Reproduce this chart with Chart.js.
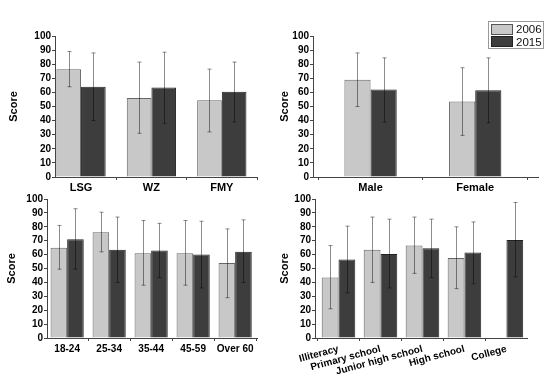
<!DOCTYPE html>
<html>
<head>
<meta charset="utf-8">
<script src="https://cdn.jsdelivr.net/npm/chart.js@4"></script>
<style>
  body { margin: 0; background: #fff; width: 550px; height: 384px; position: relative; overflow: hidden;
         font-family: "Liberation Sans", Arial, sans-serif; }
  canvas { position: absolute; }
  #legend { position: absolute; left: 488px; top: 21px; width: 54px; height: 26px; border: 1px solid #999;
            font-size: 11.5px; color: #111; }
  .row { display: flex; align-items: center; height: 11px; margin-top: 1.5px; }
  .sw { width: 20px; height: 9px; border: 1px solid #555; margin: 0 3px 0 2px; }
</style>
</head>
<body>
<canvas id="c1" width="275" height="192" style="left:0;top:0"></canvas>
<canvas id="c2" width="275" height="192" style="left:275px;top:0"></canvas>
<canvas id="c3" width="275" height="192" style="left:0;top:192px"></canvas>
<canvas id="c4" width="275" height="192" style="left:275px;top:192px"></canvas>
<div id="legend">
  <div class="row"><span class="sw" style="background:#c8c8c8"></span>2006</div>
  <div class="row"><span class="sw" style="background:#3d3d3d;border-color:#222"></span>2015</div>
</div>
<script>
// region panel
const regions = ['LSG', 'WZ', 'FMY'];
const region2006 = [76.5, 56, 54.5];
const region2006Low = [64, 31, 32];
const region2006High = [89, 81.5, 76.5];
const region2015 = [64, 63.5, 60.5];
const region2015Low = [40, 38, 39];
const region2015High = [88, 88.5, 81.5];

// gender panel
const genders = ['Male', 'Female'];
const gender2006 = [69, 53.5];
const gender2006Low = [50, 29.5];
const gender2006High = [88, 77.5];
const gender2015 = [62, 61.5];
const gender2015Low = [39, 38.5];
const gender2015High = [84.5, 84.5];

// age panel
const ages = ['18-24', '25-34', '35-44', '45-59', 'Over 60'];
const age2006 = [65, 76, 61, 61, 54];
const age2006Low = [49.5, 62, 38, 38, 29];
const age2006High = [81, 90.5, 84.5, 84.5, 78.5];
const age2015 = [71, 63.5, 63, 60, 62];
const age2015Low = [49.5, 40, 43.5, 36, 40];
const age2015High = [93, 87, 82.5, 84, 85];

// education panel (no 2006 value for College)
const education = ['Illiteracy', 'Primary school', 'Junior high school', 'High school', 'College'];
const edu2006 = [43.5, 63.5, 66.5, 57.5, null];
const edu2006Low = [21, 40, 46.5, 35.5, null];
const edu2006High = [66.5, 87, 87, 80, null];
const edu2015 = [56.5, 60.5, 64.5, 61.5, 70.5];
const edu2015Low = [32.5, 36, 43.5, 39, 44];
const edu2015High = [80.5, 85.5, 85.5, 83.5, 97.5];

const yTicks = [0, 10, 20, 30, 40, 50, 60, 70, 80, 90, 100];

const LIGHT = '#c8c8c8';
const DARK = '#3d3d3d';
const FONT = '"Liberation Sans", Arial, sans-serif';

// draws whiskers from each dataset's errLow / errHigh through the y scale
const errorBars = {
    id: 'errorBars',
    afterDatasetsDraw(chart) {
        const ctx = chart.ctx;
        const ys = chart.scales.y;
        chart.data.datasets.forEach((ds, i) => {
            const meta = chart.getDatasetMeta(i);
            meta.data.forEach((bar, j) => {
                const lo = ds.errLow[j], hi = ds.errHigh[j];
                if (lo == null || hi == null) return;
                const x = Math.round(bar.x) + 0.5;
                const y1 = ys.getPixelForValue(lo), y2 = ys.getPixelForValue(hi);
                ctx.save();
                ctx.strokeStyle = 'rgba(0,0,0,0.45)';
                ctx.lineWidth = 1;
                ctx.beginPath();
                ctx.moveTo(x, y1); ctx.lineTo(x, y2);
                ctx.moveTo(x - 2, y1); ctx.lineTo(x + 2, y1);
                ctx.moveTo(x - 2, y2); ctx.lineTo(x + 2, y2);
                ctx.stroke();
                ctx.restore();
            });
        });
    }
};

function makePanel(id, cats, s06, s15, geo) {
    const pts = vals => cats.map((c, i) => ({ x: i, y: vals[i] }));
    new Chart(document.getElementById(id), {
        type: 'bar',
        data: {
            datasets: [
                { label: '2006', data: pts(s06[0]), errLow: s06[1], errHigh: s06[2],
                  backgroundColor: LIGHT, borderColor: '#666', borderWidth: 1 },
                { label: '2015', data: pts(s15[0]), errLow: s15[1], errHigh: s15[2],
                  backgroundColor: DARK, borderColor: '#222', borderWidth: 1 }
            ]
        },
        options: {
            responsive: false,
            devicePixelRatio: 1,
            animation: false,
            categoryPercentage: geo.catPct,
            barPercentage: 1,
            layout: { padding: { top: geo.top, right: geo.right, left: 0, bottom: 0 } },
            plugins: { legend: { display: false }, tooltip: { enabled: false } },
            scales: {
                x: {
                    type: 'linear',
                    offset: false,
                    min: geo.min,
                    max: geo.max,
                    afterBuildTicks: s => { s.ticks = cats.map((c, i) => ({ value: i })); },
                    afterFit: s => { s.height = geo.xHeight; },
                    grid: { display: true, drawOnChartArea: false, drawTicks: true, tickLength: 3, color: '#444' },
                    border: { display: true, color: '#444', width: 1 },
                    ticks: {
                        autoSkip: false,
                        minRotation: geo.rotate || 0,
                        maxRotation: geo.rotate || 0,
                        padding: geo.xPad,
                        color: '#000',
                        font: { family: FONT, size: geo.xFont, weight: 'bold' },
                        callback: v => cats[v]
                    }
                },
                y: {
                    min: 0,
                    max: 100,
                    afterBuildTicks: s => { s.ticks = yTicks.map(v => ({ value: v })); },
                    afterFit: s => { s.width = geo.yWidth; },
                    grid: { display: true, drawOnChartArea: false, drawTicks: true, tickLength: 3, color: '#444' },
                    border: { display: true, color: '#444', width: 1 },
                    ticks: { autoSkip: false, padding: 1, color: '#000', font: { family: FONT, size: 10, weight: 'bold' } },
                    title: {
                        display: true, text: 'Score', color: '#000',
                        font: { family: FONT, size: 11, weight: 'bold' },
                        padding: { top: geo.titlePad, bottom: 0 }
                    }
                }
            }
        },
        plugins: [errorBars]
    });
}

makePanel('c1', regions,
    [region2006, region2006Low, region2006High],
    [region2015, region2015Low, region2015High],
    { min: -0.37, max: 2.5, catPct: 0.7, yWidth: 55, xHeight: 15, top: 36, right: 18, titlePad: 7, xFont: 11, xPad: 1 });

makePanel('c2', genders,
    [gender2006, gender2006Low, gender2006High],
    [gender2015, gender2015Low, gender2015High],
    { min: -0.55, max: 1.6, catPct: 0.5, yWidth: 38, xHeight: 15, top: 36, right: 12, titlePad: 3, xFont: 11, xPad: 1 });

makePanel('c3', ages,
    [age2006, age2006Low, age2006High],
    [age2015, age2015Low, age2015High],
    { min: -0.48, max: 4.52, catPct: 0.79, yWidth: 47, xHeight: 46, top: 5, right: 18, titlePad: 5, xFont: 10, xPad: 2 });

makePanel('c4', education,
    [edu2006, edu2006Low, edu2006High],
    [edu2015, edu2015Low, edu2015High],
    { min: -0.56, max: 4.49, catPct: 0.8, yWidth: 40, xHeight: 46, top: 5, right: 23, titlePad: 3, xFont: 10, xPad: 2, rotate: 15 });
</script>
</body>
</html>
